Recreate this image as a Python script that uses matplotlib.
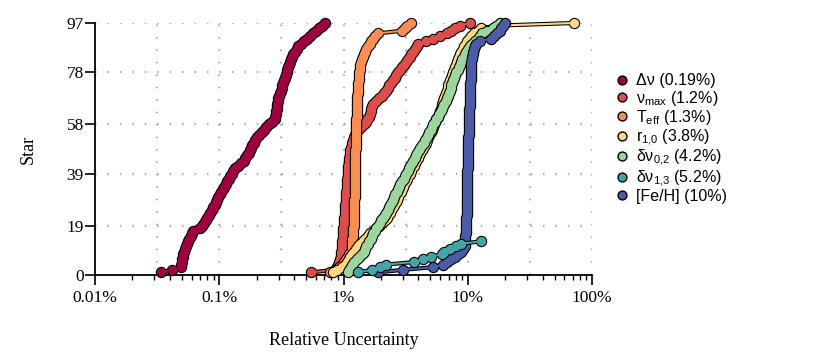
import numpy as np
import matplotlib
matplotlib.use("Agg")
import matplotlib.pyplot as plt
from matplotlib.ticker import FixedLocator, NullFormatter, LogLocator
from matplotlib.lines import Line2D

plt.rcParams['font.family'] = ['Liberation Serif', 'DejaVu Serif']
plt.rcParams['mathtext.fontset'] = 'custom'
plt.rcParams['mathtext.rm'] = 'Liberation Sans'

# relative uncertainties (%) of each star, sorted
dnu = [0.0338, 0.0416, 0.0489,
       0.0492, 0.0497, 0.0503, 0.0508, 0.0514,
       0.0524, 0.0533, 0.0543, 0.0553, 0.0563,
       0.0575, 0.0587, 0.0598, 0.0611,
       0.0700,
       0.0730, 0.0752, 0.0778, 0.0801,
       0.0824, 0.0848, 0.0871, 0.0895,
       0.0917, 0.0939, 0.0962, 0.0986, 0.101,
       0.104, 0.107, 0.110, 0.113, 0.116,
       0.119, 0.123, 0.126, 0.130, 0.134,
       0.141, 0.150, 0.158,
       0.162, 0.167, 0.172, 0.177,
       0.181, 0.185, 0.190, 0.195, 0.200,
       0.209, 0.219, 0.229, 0.240,
       0.253, 0.267, 0.281,
       0.283, 0.285, 0.287, 0.289, 0.291, 0.293, 0.296, 0.298,
       0.303, 0.308, 0.313, 0.317, 0.322, 0.327,
       0.332, 0.337, 0.343, 0.348, 0.353, 0.359,
       0.366, 0.373, 0.380, 0.387, 0.394,
       0.406, 0.419, 0.432,
       0.455, 0.480, 0.505,
       0.537, 0.571,
       0.600, 0.632, 0.668, 0.708]

numax = [0.547, 0.853,
         0.885, 0.905, 0.920, 0.935, 0.948, 0.958,
         0.962, 0.966, 0.970, 0.974, 0.978, 0.982, 0.986, 0.990, 0.994, 0.998, 1.003, 1.007,
         1.011, 1.015, 1.019, 1.023, 1.027, 1.031, 1.035, 1.039, 1.043, 1.047, 1.051, 1.055, 1.059,
         1.063, 1.067, 1.071, 1.075, 1.079, 1.083, 1.087, 1.091, 1.096, 1.101,
         1.108, 1.115, 1.122, 1.130, 1.138, 1.15,
         1.165, 1.18, 1.20, 1.22, 1.24, 1.27, 1.31,
         1.38, 1.46, 1.53,
         1.56, 1.59, 1.62, 1.65, 1.68, 1.70, 1.73,
         1.82, 1.92, 2.03,
         2.10, 2.18, 2.26, 2.34, 2.42, 2.50, 2.58, 2.67,
         2.77, 2.87, 2.97, 3.08, 3.20, 3.32,
         3.42, 3.52, 3.63, 3.75, 3.87, 3.99,
         4.6, 5.27,
         5.95, 6.75,
         7.3, 7.95, 8.63,
         10.4]

teff = [0.78, 0.86, 0.92, 0.97, 1.00,
        1.04, 1.08, 1.11, 1.14, 1.16,
        1.165, 1.170, 1.175, 1.180, 1.185, 1.19, 1.195, 1.20, 1.205, 1.21, 1.213, 1.216, 1.22,
        1.221, 1.222, 1.223, 1.224, 1.225, 1.226, 1.227, 1.228, 1.229, 1.230,
        1.231, 1.232, 1.233, 1.234, 1.235, 1.236, 1.237, 1.238, 1.239, 1.240,
        1.242, 1.244, 1.246, 1.247, 1.248, 1.25,
        1.252, 1.254, 1.256, 1.258, 1.260, 1.262, 1.264, 1.266, 1.268, 1.270,
        1.272, 1.274, 1.276, 1.278, 1.280, 1.282, 1.285, 1.288, 1.29,
        1.295, 1.30, 1.305, 1.31, 1.315, 1.32, 1.325, 1.33, 1.336, 1.342, 1.348, 1.355,
        1.37, 1.39, 1.41, 1.44, 1.47, 1.50, 1.53,
        1.57, 1.62, 1.67, 1.73, 1.79,
        1.90, 2.93, 3.10, 3.25, 3.49]

r10 = [0.822, 0.885, 0.971,
       1.02, 1.065,
       1.10, 1.135, 1.168,
       1.21, 1.26, 1.306,
       1.37, 1.432,
       1.50, 1.565, 1.631,
       1.72, 1.82, 1.93, 2.04, 2.153,
       2.22, 2.29, 2.36, 2.43, 2.50, 2.57, 2.64,
       2.70, 2.76, 2.82, 2.88, 2.94, 3.006,
       3.08, 3.16, 3.24, 3.32, 3.40, 3.485,
       3.57, 3.66, 3.75, 3.85, 3.95, 4.043,
       4.15, 4.26, 4.37, 4.49, 4.602,
       4.70, 4.81, 4.92, 5.03, 5.13, 5.238,
       5.35, 5.47, 5.59, 5.72, 5.84, 5.964,
       6.06, 6.16, 6.26, 6.36, 6.46, 6.56, 6.665,
       6.77, 6.88, 6.99, 7.10, 7.21, 7.33, 7.447,
       7.59, 7.73, 7.87, 8.02, 8.17, 8.32, 8.48,
       8.68, 8.88, 9.09, 9.30,
       9.60, 9.90, 10.2,
       10.7, 11.2,
       12.0, 12.8, 17.5, 72.0]

dnu02 = [1.085, 1.11, 1.14, 1.168,
         1.22, 1.28, 1.34, 1.406,
         1.45, 1.49, 1.53, 1.572,
         1.61, 1.65, 1.70, 1.74, 1.789,
         1.84, 1.90, 1.96, 2.02, 2.075,
         2.14, 2.20, 2.26, 2.32, 2.38, 2.449,
         2.50, 2.56, 2.62, 2.68, 2.73, 2.791,
         2.87, 2.95, 3.04, 3.12, 3.21, 3.297,
         3.38, 3.46, 3.55, 3.64, 3.73, 3.823,
         3.93, 4.04, 4.15, 4.29, 4.436,
         4.55, 4.66, 4.78, 4.90, 5.02, 5.142,
         5.29, 5.44, 5.59, 5.75, 5.91, 6.076,
         6.21, 6.35, 6.49, 6.63, 6.77, 6.91, 7.047,
         7.16, 7.27, 7.39, 7.51, 7.63, 7.75, 7.875,
         8.07, 8.27, 8.48,
         8.67, 8.87, 9.07, 9.27, 9.48,
         9.77, 10.1, 10.4,
         10.9, 11.5, 12.06,
         12.5, 12.99,
         14.4, 15.92,
         17.0, 18.13]

dnu13 = [1.31, 1.71, 1.98, 2.19, 3.7, 4.4, 5.1, 6.2, 6.4, 7.2, 8.0, 8.75, 12.9]

feh = [1.89, 3.02, 5.27, 6.34,
       6.85, 7.31, 7.85, 8.37,
       8.75, 9.12, 9.48,
       9.50, 9.53, 9.55, 9.58, 9.60, 9.63, 9.65, 9.68, 9.70, 9.73, 9.75, 9.78,
       9.79, 9.80, 9.81, 9.82, 9.83, 9.84, 9.85, 9.86, 9.87, 9.88, 9.89, 9.90, 9.91,
       9.92, 9.93, 9.94, 9.95, 9.96, 9.97, 9.98, 9.99, 10.0, 10.02, 10.04, 10.05, 10.07,
       10.09, 10.10, 10.12, 10.13, 10.15, 10.17, 10.18, 10.20, 10.22, 10.23,
       10.25, 10.27, 10.28, 10.30, 10.32, 10.34, 10.36, 10.38, 10.40,
       10.42, 10.44, 10.46, 10.48, 10.50, 10.52, 10.54, 10.56, 10.58, 10.60,
       10.62, 10.64, 10.67, 10.70, 10.73,
       10.85, 10.98, 11.12, 11.26, 11.41,
       11.6, 12.5, 15.5, 16.3, 17.2, 18.1, 18.6, 19.2, 19.9]

labels = [r'Δν (0.19%)', r'ν$_\mathregular{max}$ (1.2%)', r'T$_\mathregular{eff}$ (1.3%)',
          r'r$_\mathregular{1{,}0}$ (3.8%)', r'δν$_\mathregular{0{,}2}$ (4.2%)',
          r'δν$_\mathregular{1{,}3}$ (5.2%)', '[Fe/H] (10%)']
series = [dnu, numax, teff, r10, dnu02, dnu13, feh]
colors = ['#9e0142', '#de4d4b', '#f98e52', '#fdd883', '#9cd69e', '#44a5a9', '#4c5ba6']
zorders = [3, 4, 5, 6, 7, 9, 8]

n_stars = 97
yticks = [0, 19, 39, 58, 78, 97]

fig = plt.figure(figsize=(8.3, 3.59), dpi=100)
ax = fig.add_axes([0.11446, 0.23398, 0.5988, 0.70195])
ax.set_xscale('log')
ax.set_xlim(0.01, 100)
ax.set_ylim(0, n_stars)

# dotted grid at half decades and at the y ticks
for gx in 10 ** np.arange(-1.5, 2.01, 0.5):
    ax.axvline(gx, color='#b0b0b0', lw=1.6, ls=(0, (0.7, 4.9)), zorder=0)
for gy in yticks[1:]:
    ax.axhline(gy, color='#b0b0b0', lw=1.6, ls=(0, (0.7, 4.9)), zorder=0)

# black outline first, then the coloured fill on top, one series at a time
for vals, col, z in zip(series, colors, zorders):
    y = np.arange(1, len(vals) + 1)
    ax.plot(vals, y, color='black', lw=3.0, zorder=z, clip_on=False, solid_capstyle='round')
    ax.plot(vals, y, 'o', color='black', ms=8.2, mew=0, zorder=z, clip_on=False)
    ax.plot(vals, y, color=col, lw=1.5, zorder=z, clip_on=False, solid_capstyle='round')
    ax.plot(vals, y, 'o', color=col, ms=6.6, mew=0, zorder=z, clip_on=False)

ax.xaxis.set_major_locator(FixedLocator([0.01, 0.1, 1, 10, 100]))
ax.set_xticklabels(['0.01%', '0.1%', '1%', '10%', '100%'])
ax.xaxis.set_minor_locator(LogLocator(base=10, subs=np.arange(2, 10)))
ax.xaxis.set_minor_formatter(NullFormatter())
ax.set_yticks(yticks)

for s in ['top', 'right']:
    ax.spines[s].set_visible(False)
for s in ['left', 'bottom']:
    ax.spines[s].set_linewidth(1.3)
ax.tick_params(axis='both', which='major', direction='out', length=7, width=1.2,
               labelsize=12.5)
ax.tick_params(axis='x', which='major', pad=3.5)
ax.tick_params(axis='y', which='major', pad=1)
ax.tick_params(axis='x', which='minor', direction='out', length=3.6, width=1.0)

ax.set_xlabel('Relative Uncertainty', fontsize=13, labelpad=19)
ax.set_ylabel('Star', fontsize=13, labelpad=21.5)

handles = [Line2D([], [], ls='none', marker='o', color=c, ms=6.4, mec='black', mew=1.0)
           for c in colors]
fig.legend(handles, labels, loc='center left', bbox_to_anchor=(0.7320, 0.6137),
           frameon=False, borderpad=0, handlelength=0.8, handletextpad=0.5,
           labelspacing=0.02, prop={'family': 'Liberation Sans', 'size': 11.5})

fig.savefig('out.png', dpi=100)
